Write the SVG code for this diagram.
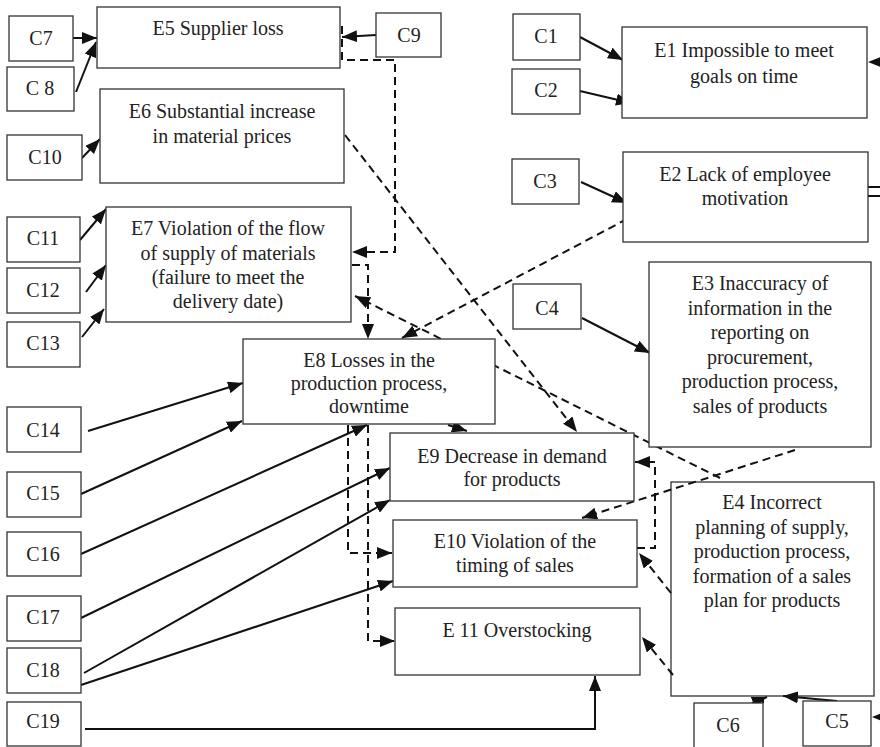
<svg xmlns="http://www.w3.org/2000/svg" width="880" height="747" viewBox="0 0 880 747">
  <defs>
    <marker id="arr" viewBox="0 0 15 12" refX="15" refY="6" markerWidth="15" markerHeight="12" markerUnits="userSpaceOnUse" orient="auto">
      <path d="M0,0 L15,6 L0,12 z" fill="#111"/>
    </marker>
    <style>
      rect.box { fill: #fff; stroke: #333; stroke-width: 1.3; }
      text { font-family: "Liberation Serif", "Times New Roman", serif; font-size: 20px; fill: #222; text-anchor: middle; }
      .solid { fill: none; stroke: #111; stroke-width: 2; }
      .dash { fill: none; stroke: #111; stroke-width: 2; stroke-dasharray: 8 5; }
      .head { fill: #111; }
    </style>
  </defs>

  <rect width="880" height="747" fill="#fff"/>

  <!-- E4 sits beneath the connectors that cross its corner -->
  <g id="E4">
    <rect class="box" x="671" y="482" width="203" height="214"/>
    <text x="772" y="509">E4 Incorrect</text>
    <text x="772" y="533.5">planning of supply,</text>
    <text x="772" y="558">production process,</text>
    <text x="772" y="582.5">formation of a sales</text>
    <text x="772" y="607">plan for products</text>
  </g>

  <g id="connectors">
    <!-- solid cause arrows -->
    <path class="solid" d="M73,38 L97,38" marker-end="url(#arr)"/>
    <path class="solid" d="M76,92 L96,42" marker-end="url(#arr)"/>
    <path class="solid" d="M376,35 L342,37" marker-end="url(#arr)"/>
    <path class="solid" d="M82,158 L100,139" marker-end="url(#arr)"/>
    <path class="solid" d="M80,240 L106,209" marker-end="url(#arr)"/>
    <path class="solid" d="M86,292 L106,265" marker-end="url(#arr)"/>
    <path class="solid" d="M82,337 L104,309" marker-end="url(#arr)"/>
    <path class="solid" d="M580,37 L623,60" marker-end="url(#arr)"/>
    <path class="solid" d="M580,91 L631,103" marker-end="url(#arr)"/>
    <path class="solid" d="M581,182 L627,203" marker-end="url(#arr)"/>
    <path class="solid" d="M582,318 L650,353" marker-end="url(#arr)"/>
    <path class="solid" d="M88,431 L243,383" marker-end="url(#arr)"/>
    <path class="solid" d="M81,494 L242,421" marker-end="url(#arr)"/>
    <path class="solid" d="M81,554 L367,425" marker-end="url(#arr)"/>
    <path class="solid" d="M81,618 L390,468" marker-end="url(#arr)"/>
    <path class="solid" d="M84,673 L390,500" marker-end="url(#arr)"/>
    <path class="solid" d="M81,685 L393,581" marker-end="url(#arr)"/>
    <path class="solid" d="M85,729 L595,729 L595,676" marker-end="url(#arr)"/>
    <path class="solid" d="M752,703 L767,697" marker-end="url(#arr)"/>
    <path class="solid" d="M763,703 L763,697"/>
    <path class="solid" d="M837,701 L783,696" marker-end="url(#arr)"/>
    <!-- arrows entering from beyond the right edge -->
    <path class="head" d="M868,62 L883,56 L883,68 z"/>
    <path class="head" d="M872,717 L887,711 L887,723 z"/>
    <path class="solid" d="M868,187 L880,187 M868,196 L880,196"/>

    <!-- dashed links between events -->
    <path class="dash" d="M342,26 L342,60 L395,60 L395,252 L352,252" marker-end="url(#arr)"/>
    <path class="dash" d="M345,135 L577,432" marker-end="url(#arr)"/>
    <path class="dash" d="M352,265 L368,265 L368,339" marker-end="url(#arr)"/>
    <path class="dash" d="M720,478 L355,296" marker-end="url(#arr)"/>
    <path class="dash" d="M627,219 L402,338" marker-end="url(#arr)"/>
    <path class="dash" d="M448,425 L467,431" marker-end="url(#arr)"/>
    <path class="dash" d="M348,425 L348,553 L392,553" marker-end="url(#arr)"/>
    <path class="dash" d="M368,425 L368,641 L395,641" marker-end="url(#arr)"/>
    <path class="dash" d="M637,548 L655,548 L655,462 L635,462" marker-end="url(#arr)"/>
    <path class="dash" d="M795,450 L582,518" marker-end="url(#arr)"/>
    <path class="dash" d="M671,593 L639,553" marker-end="url(#arr)"/>
    <path class="dash" d="M673,675 L642,637" marker-end="url(#arr)"/>
  </g>

  <!-- events -->
  <g id="E5">
    <rect class="box" x="97" y="7" width="243" height="61"/>
    <text x="218" y="35">E5 Supplier loss</text>
  </g>
  <g id="E6">
    <rect class="box" x="100" y="89" width="244" height="94"/>
    <text x="222" y="118">E6 Substantial increase</text>
    <text x="222" y="143">in material prices</text>
  </g>
  <g id="E7">
    <rect class="box" x="106" y="207" width="245" height="115"/>
    <text x="228" y="235">E7 Violation of the flow</text>
    <text x="228" y="260">of supply of materials</text>
    <text x="228" y="284">(failure to meet the</text>
    <text x="228" y="308">delivery date)</text>
  </g>
  <g id="E8">
    <rect class="box" x="243" y="339" width="252" height="85"/>
    <text x="369" y="367">E8 Losses in the</text>
    <text x="369" y="390">production process,</text>
    <text x="369" y="413">downtime</text>
  </g>
  <g id="E1">
    <rect class="box" x="622" y="27" width="245" height="91"/>
    <text x="744" y="57">E1 Impossible to meet</text>
    <text x="744" y="83">goals on time</text>
  </g>
  <g id="E2">
    <rect class="box" x="623" y="152" width="245" height="90"/>
    <text x="745" y="181">E2 Lack of employee</text>
    <text x="745" y="205">motivation</text>
  </g>
  <g id="E3">
    <rect class="box" x="649" y="262" width="222" height="185"/>
    <text x="760" y="290">E3 Inaccuracy of</text>
    <text x="760" y="314.5">information in the</text>
    <text x="760" y="339">reporting on</text>
    <text x="760" y="363.5">procurement,</text>
    <text x="760" y="388">production process,</text>
    <text x="760" y="412.5">sales of products</text>
  </g>
  <g id="E9">
    <rect class="box" x="390" y="433" width="244" height="68"/>
    <text x="512" y="463">E9 Decrease in demand</text>
    <text x="512" y="486">for products</text>
  </g>
  <g id="E10">
    <rect class="box" x="393" y="520" width="244" height="67"/>
    <text x="515" y="548">E10 Violation of the</text>
    <text x="515" y="572">timing of sales</text>
  </g>
  <g id="E11">
    <rect class="box" x="395" y="608" width="245" height="67"/>
    <text x="517" y="637">E 11 Overstocking</text>
  </g>

  <!-- causes -->
  <g id="C1"><rect class="box" x="513" y="14" width="67" height="46"/><text x="546" y="43">C1</text></g>
  <g id="C2"><rect class="box" x="512" y="69" width="68" height="45"/><text x="546" y="97">C2</text></g>
  <g id="C3"><rect class="box" x="512" y="159" width="67" height="45"/><text x="545" y="188">C3</text></g>
  <g id="C4"><rect class="box" x="513" y="284" width="68" height="45"/><text x="547" y="315">C4</text></g>
  <g id="C5"><rect class="box" x="803" y="701" width="68" height="45"/><text x="837" y="728">C5</text></g>
  <g id="C6"><rect class="box" x="694" y="703" width="69" height="50"/><text x="728" y="732">C6</text></g>
  <g id="C7"><rect class="box" x="9" y="16" width="64" height="45"/><text x="41" y="45">C7</text></g>
  <g id="C8"><rect class="box" x="7" y="67" width="67" height="44"/><text x="40" y="95">C 8</text></g>
  <g id="C9"><rect class="box" x="376" y="13" width="65" height="44"/><text x="409" y="42">C9</text></g>
  <g id="C10"><rect class="box" x="7" y="135" width="75" height="45"/><text x="45" y="164">C10</text></g>
  <g id="C11"><rect class="box" x="7" y="217" width="73" height="45"/><text x="43" y="245">C11</text></g>
  <g id="C12"><rect class="box" x="7" y="268" width="73" height="45"/><text x="43" y="297">C12</text></g>
  <g id="C13"><rect class="box" x="7" y="322" width="73" height="45"/><text x="43" y="350">C13</text></g>
  <g id="C14"><rect class="box" x="7" y="407" width="74" height="45"/><text x="43" y="437">C14</text></g>
  <g id="C15"><rect class="box" x="7" y="472" width="74" height="45"/><text x="43" y="500">C15</text></g>
  <g id="C16"><rect class="box" x="7" y="532" width="74" height="44"/><text x="43" y="561">C16</text></g>
  <g id="C17"><rect class="box" x="7" y="596" width="74" height="45"/><text x="43" y="624">C17</text></g>
  <g id="C18"><rect class="box" x="7" y="648" width="74" height="45"/><text x="43" y="677">C18</text></g>
  <g id="C19"><rect class="box" x="7" y="702" width="74" height="44"/><text x="43" y="728">C19</text></g>
</svg>
